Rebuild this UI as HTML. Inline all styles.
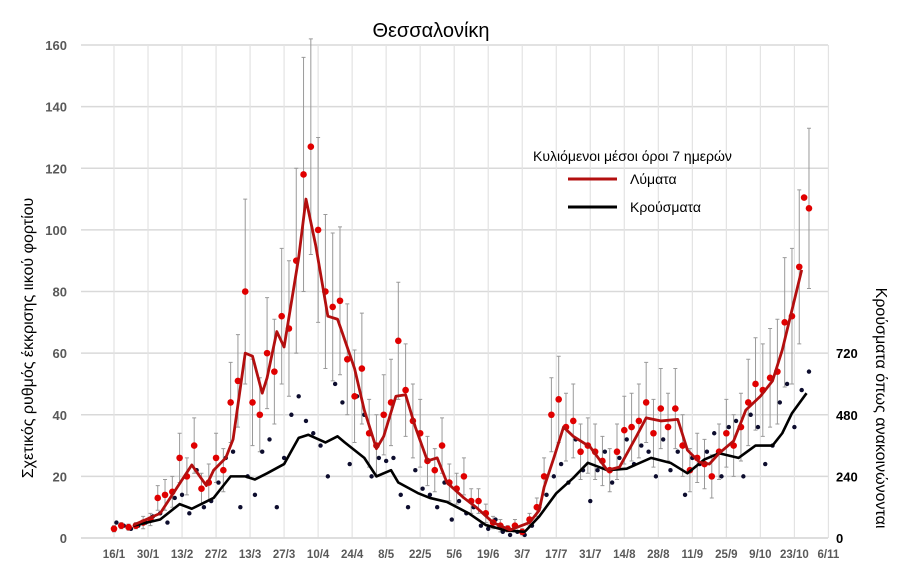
<!DOCTYPE html>
<html><head><meta charset="utf-8"><style>
body{margin:0;background:#fff;width:913px;height:581px;overflow:hidden;font-family:"Liberation Sans","DejaVu Sans",sans-serif}
svg text{font-family:"Liberation Sans","DejaVu Sans",sans-serif}
</style></head><body>
<svg id="chart" width="913" height="581" xmlns="http://www.w3.org/2000/svg">
<g id="grid"></g>
<g id="axes"></g>
<g id="marks"></g>
<text x="431" y="37" font-size="20" text-anchor="middle" fill="#000">Θεσσαλονίκη</text>
<text transform="translate(33,338) rotate(-90)" font-size="16" text-anchor="middle" fill="#000">Σχετικός ρυθμός έκκρισης ιικού φορτίου</text>
<text transform="translate(876,408) rotate(90)" font-size="16" text-anchor="middle" fill="#000">Κρούσματα όπως ανακοινώνονται</text>
<g>
<text x="533" y="161" font-size="14" fill="#000">Κυλιόμενοι μέσοι όροι 7 ημερών</text>
<line x1="568" y1="179" x2="617" y2="179" stroke="#b30f0f" stroke-width="3"/>
<text x="630" y="184" font-size="14" fill="#000">Λύματα</text>
<line x1="568" y1="207" x2="617" y2="207" stroke="#000" stroke-width="3"/>
<text x="630" y="212" font-size="14" fill="#000">Κρούσματα</text>
</g>
</svg>
<script>
const xLabels=["16/1","30/1","13/2","27/2","13/3","27/3","10/4","24/4","8/5","22/5","5/6","19/6","3/7","17/7","31/7","14/8","28/8","11/9","25/9","9/10","23/10","6/11"];
const yTicks=[0,20,40,60,80,100,120,140,160];
const y2Ticks=[0,240,480,720];
const redLineDays=[8,19,32,38,41,46,49,54,57,61,63,67,70,76,79,83,88,92,94,99,103,108,111,116,120,124,129,133,137,144,149,156,163,171,175,177,181,185,189,196,203,208,215,219,225,232,236,241,245,249,255,260,266,271,275,279,283];
const redLineVals=[4.2,8,23.7,17,22,26,32,60,59,47,52,67,62,91,110,95,72,71,66.5,55,41.5,29,33,46,46.5,36,25,26,18,13,10,5,2.6,5,9,16.5,26,36,33,29.5,22,23,33,39,38,38.5,28.5,24.6,24,27.5,31.5,41.5,46,51,61,74,87];
const blackLineDays=[8,19,27,32,41,48,54,58,63,70,76,80,87,92,95,103,108,114,117,125,130,137,146,153,161,169,175,182,189,195,203,211,221,229,236,243,249,257,264,271,275,279,285];
const blackLineVals=[4,6,11,9.5,13,20,20,19,21,24,32.5,33.5,31,33,31,26,20,22,18,14.6,13,11.7,8,4.2,2.5,2,7,14.5,19.5,24.4,22,22.5,26,24.4,21,25.5,27.5,26,30,30,34,40.5,47];
const redDotDays=[0,3,6,9,12,15,18,21,24,27,30,33,36,39,42,45,48,51,54,57,60,63,66,69,72,75,78,81,84,87,90,93,96,99,102,105,108,111,114,117,120,123,126,129,132,135,138,141,144,147,150,153,156,159,162,165,168,171,174,177,180,183,186,189,192,195,198,201,204,207,210,213,216,219,222,225,228,231,234,237,240,243,246,249,252,255,258,261,264,267,270,273,276,279,282,284,286];
const redDotVals=[3,4,3.5,4,5,6,13,14,15,26,20,30,16,18,26,22,44,51,80,44,40,60,54,72,68,90,118,127,100,80,75,77,58,46,55,34,30,40,44,64,48,38,34,25,22,30,18,16,20,12,12,8,5,4,3,4,2,6,10,20,40,45,36,38,28,30,28,25,22,28,35,36,38,44,34,42,36,42,30,22,26,24,20,28,34,30,36,44,50,48,52,54,70,72,88,110.5,107];
const redErr=[1,1,1,1,2,2,4,5,5,8,6,9,5,6,8,7,13,15,30,14,12,18,17,22,22,30,38,35,30,25,24,24,18,15,18,11,10,13,14,19,15,12,11,8,7,9,6,5,6,4,4,3,2,2,1,2,1,2,3,6,12,14,11,12,9,9,9,8,7,9,11,11,12,13,11,13,11,13,10,7,8,8,7,9,11,10,11,14,15,15,16,17,21,22,25,0,26];
const blackDotDays=[1,4,7,10,13,16,19,22,25,28,31,34,37,40,43,46,49,52,55,58,61,64,67,70,73,76,79,82,85,88,91,94,97,100,103,106,109,112,115,118,121,124,127,130,133,136,139,142,145,148,151,154,157,160,163,166,169,172,175,178,181,184,187,190,193,196,199,202,205,208,211,214,217,220,223,226,229,232,235,238,241,244,247,250,253,256,259,262,265,268,271,274,277,280,283,286];
const blackDotVals=[5,4,3,4,5,7,8,5,13,14,8,22,10,12,18,26,28,10,20,14,28,32,10,26,40,46,38,34,30,20,50,44,24,46,40,20,26,25,26,14,10,22,16,14,10,18,6,12,8,10,4,3,6,2,1,2,1,4,10,14,20,24,18,32,22,12,22,28,18,26,32,24,30,28,20,32,22,28,14,26,24,28,34,20,36,38,20,40,36,24,30,44,50,36,48,54];

const NS="http://www.w3.org/2000/svg";
const X0=114,PXD=2.43,Y0=538,PXU=3.081,LEFT=81,RIGHT=828;
const xs=d=>X0+d*PXD, ys=v=>Y0-v*PXU, ys2=v=>ys(v/12);
function mk(tag,attrs,parent,txt){const e=document.createElementNS(NS,tag);for(const k in attrs)e.setAttribute(k,attrs[k]);if(txt!==undefined)e.textContent=txt;parent.appendChild(e);return e;}
const grid=document.getElementById('grid'),axes=document.getElementById('axes'),marks=document.getElementById('marks');
yTicks.forEach(t=>{
  const l=mk('line',{x1:LEFT,x2:RIGHT,y1:ys(t),y2:ys(t),stroke:'#d9d9d9','stroke-width':1.5},grid);
  
  
  const tx=mk('text',{x:67,y:ys(t)+5,'font-size':13,'font-weight':'bold','text-anchor':'end',fill:'#595959'},axes,String(t));
  
  
});
xLabels.forEach((s,i)=>{
  const x=xs(i*14);
  const l=mk('line',{x1:x,x2:x,y1:ys(160),y2:Y0,stroke:'#e3e3e3','stroke-width':1.2},grid);
  
  
  const tx=mk('text',{x:x,y:558,'font-size':11.5,'font-weight':'bold','text-anchor':'middle',fill:'#595959'},axes,s);
  
  
});
y2Ticks.forEach(t=>{
  const tx=mk('text',{x:836,y:ys2(t)+5,'font-size':13,'font-weight':'bold',fill:'#000'},axes,String(t));
  
  
});
const ax=mk('line',{x1:LEFT,x2:RIGHT,y1:Y0,y2:Y0,stroke:'#d9d9d9','stroke-width':1.5},axes);


// error bars
redDotDays.forEach((d,i)=>{
  const e=redErr[i]; if(!e) return;
  const x=xs(d);
  const g=mk('path',{d:`M${x} ${ys(redDotVals[i]+e)}V${ys(Math.max(0,redDotVals[i]-e))}M${x-2} ${ys(redDotVals[i]+e)}h4M${x-2} ${ys(Math.max(0,redDotVals[i]-e))}h4`,stroke:'#9a9a9a','stroke-width':1,fill:'none'},marks);
  
  
});
blackDotDays.forEach((d,i)=>{
  const c=mk('circle',{cx:xs(d),cy:ys(blackDotVals[i]),r:2.2,fill:'#0d0d2e'},marks);
  
  
});
redDotDays.forEach((d,i)=>{
  const c=mk('circle',{cx:xs(d),cy:ys(redDotVals[i]),r:3.3,fill:'#e00000'},marks);
  
  
});
const bl=mk('polyline',{points:blackLineDays.map((d,i)=>xs(d)+','+ys(blackLineVals[i])).join(' '),fill:'none',stroke:'#000','stroke-width':2.6,'stroke-linejoin':'round'},marks);


const rl=mk('polyline',{points:redLineDays.map((d,i)=>xs(d)+','+ys(redLineVals[i])).join(' '),fill:'none',stroke:'#b30f0f','stroke-width':2.8,'stroke-linejoin':'round'},marks);


</script>
</body></html>
